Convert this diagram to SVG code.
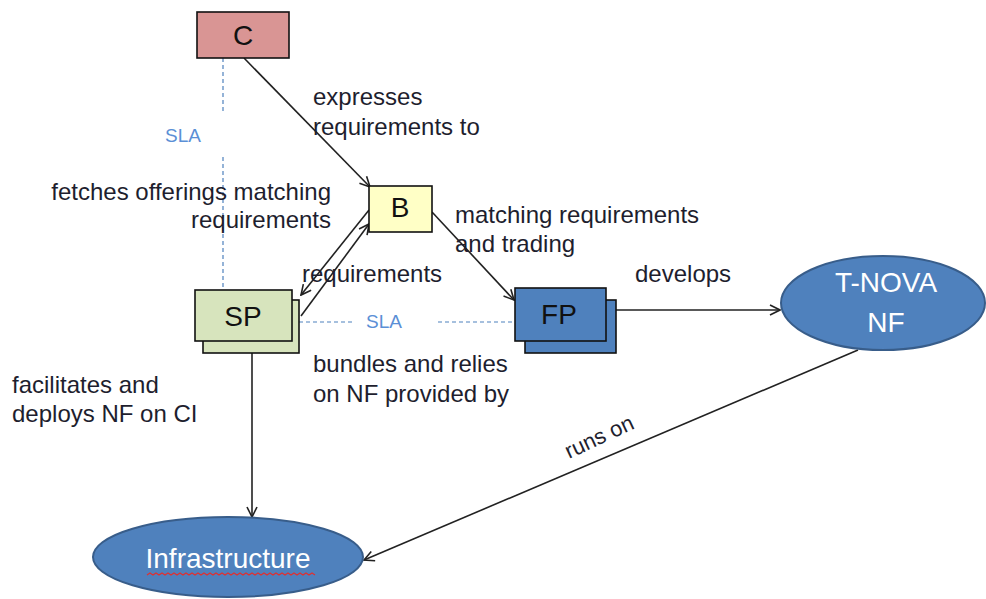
<svg xmlns="http://www.w3.org/2000/svg" width="986" height="599" viewBox="0 0 986 599">
<defs>
<marker id="arr" viewBox="0 0 12 12" refX="11" refY="6" markerWidth="12" markerHeight="12" markerUnits="userSpaceOnUse" orient="auto">
<path d="M1,1 L11,6 L1,11" fill="none" stroke="#222" stroke-width="1.6"/>
</marker>
<style>
.lbl{font-family:"Liberation Sans",Arial,sans-serif;font-size:24px;fill:#1e1e2e}
.big{font-family:"Liberation Sans",Arial,sans-serif;font-size:28px;fill:#111;text-anchor:middle}
.wht{font-family:"Liberation Sans",Arial,sans-serif;font-size:28px;fill:#fff;text-anchor:middle}
.sla{font-family:"Liberation Sans",Arial,sans-serif;font-size:19px;fill:#5b8fd6}
.box{stroke:#111;stroke-width:1.6}
.ell{fill:#4f81bd;stroke:#385d8a;stroke-width:2}
.con{stroke:#222;stroke-width:1.6;fill:none}
.dash{stroke:#4f81bd;stroke-width:1.2;stroke-dasharray:4,3;fill:none}
</style>
</defs>
<rect width="986" height="599" fill="#fff"/>
<g id="connectors">
<line class="dash" x1="223" y1="58" x2="223" y2="112"/>
<line class="dash" x1="223" y1="157" x2="223" y2="290"/>
<line class="dash" x1="299" y1="322" x2="352" y2="322"/>
<line class="dash" x1="438" y1="322" x2="515" y2="322"/>
<line class="con" x1="244" y1="58" x2="370" y2="187" marker-end="url(#arr)"/>
<line class="con" x1="369" y1="210" x2="301" y2="295" marker-end="url(#arr)"/>
<line class="con" x1="301" y1="316" x2="369" y2="224" marker-end="url(#arr)"/>
<line class="con" x1="432" y1="212" x2="514" y2="300" marker-end="url(#arr)"/>
<line class="con" x1="616" y1="310" x2="780" y2="310" marker-end="url(#arr)"/>
<line class="con" x1="252" y1="353" x2="252" y2="517" marker-end="url(#arr)"/>
<line class="con" x1="858" y1="350" x2="364" y2="560" marker-end="url(#arr)"/>
</g>
<g id="labels">
<text class="sla" x="165" y="142">SLA</text>
<text class="sla" x="366" y="328">SLA</text>
<text class="lbl" x="313" y="105">expresses</text>
<text class="lbl" x="313" y="135">requirements to</text>
<text class="lbl" x="331" y="200" text-anchor="end">fetches offerings matching</text>
<text class="lbl" x="331" y="228" text-anchor="end">requirements</text>
<text class="lbl" x="455" y="223">matching requirements</text>
<text class="lbl" x="455" y="252">and trading</text>
<text class="lbl" x="302" y="282">requirements</text>
<text class="lbl" x="635" y="282">develops</text>
<text class="lbl" x="313" y="372">bundles and relies</text>
<text class="lbl" x="313" y="402">on NF provided by</text>
<text class="lbl" x="12" y="393">facilitates and</text>
<text class="lbl" x="12" y="422">deploys NF on CI</text>
<text class="lbl" transform="translate(569,459) rotate(-25)" style="font-size:22px">runs on</text>
</g>
<g id="node-C">
<rect class="box" x="197" y="12" width="92" height="46" fill="#d99594"/>
<text class="big" x="243" y="45">C</text>
</g>
<g id="node-B">
<rect class="box" x="369" y="186" width="63" height="46" fill="#ffffc6"/>
<text class="big" x="400" y="217">B</text>
</g>
<g id="node-SP">
<rect class="box" x="203" y="300" width="96" height="53" fill="#d7e4bd"/>
<rect class="box" x="195" y="290" width="97" height="51" fill="#d7e4bd"/>
<text class="big" x="243" y="326">SP</text>
</g>
<g id="node-FP">
<rect class="box" x="525" y="300" width="91" height="53" fill="#4f81bd"/>
<rect class="box" x="515" y="288" width="91" height="53" fill="#4f81bd"/>
<text class="big" x="559" y="324">FP</text>
</g>
<g id="node-TNOVA">
<ellipse class="ell" cx="883" cy="303" rx="102" ry="47"/>
<text class="wht" x="886" y="292">T-NOVA</text>
<text class="wht" x="886" y="332">NF</text>
</g>
<g id="node-Infrastructure">
<ellipse class="ell" cx="228" cy="557" rx="135" ry="40"/>
<text class="wht" x="228" y="568">Infrastructure</text>
<path d="M147,575 l3,-2 l3,2 l3,-2 l3,2 l3,-2 l3,2 l3,-2 l3,2 l3,-2 l3,2 l3,-2 l3,2 l3,-2 l3,2 l3,-2 l3,2 l3,-2 l3,2 l3,-2 l3,2 l3,-2 l3,2 l3,-2 l3,2 l3,-2 l3,2 l3,-2 l3,2 l3,-2 l3,2 l3,-2 l3,2 l3,-2 l3,2 l3,-2 l3,2 l3,-2 l3,2 l3,-2 l3,2 l3,-2 l3,2 l3,-2 l3,2 l3,-2 l3,2 l3,-2 l3,2 l3,-2 l3,2 l3,-2 l3,2 l3,-2 l3,2 l3,-2 l3,2" fill="none" stroke="#e03030" stroke-width="1.2"/>
</g>
</svg>
